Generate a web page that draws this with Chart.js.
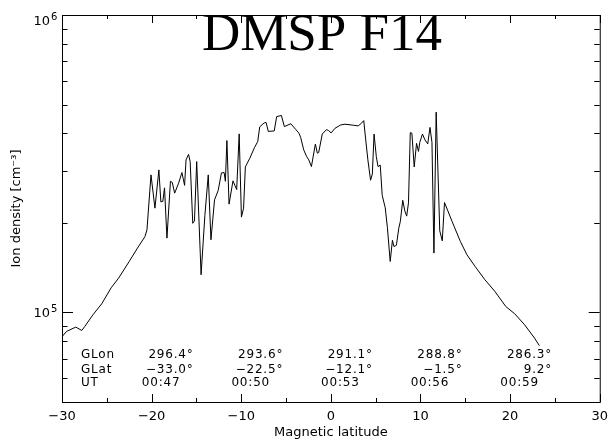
<!DOCTYPE html>
<html>
<head>
<meta charset="utf-8">
<script src="https://cdn.jsdelivr.net/npm/chart.js@4.4.1/dist/chart.umd.min.js"></script>
<style>
html,body{margin:0;padding:0;background:#fff}
#wrap{width:615px;height:443px}
</style>
</head>
<body>
<div id="wrap"><canvas id="c" width="615" height="443"></canvas></div>
<script>
/* DMSP F14 ion density pass */
const mlat=[-30.00,-29.48,-28.46,-27.79,-27.46,-26.55,-25.56,-24.52,-23.68,-22.50,
  -21.58,-20.74,-20.52,-20.07,-19.63,-19.19,-18.97,-18.75,-18.56,-18.29,
  -17.90,-17.70,-17.43,-16.99,-16.62,-16.32,-16.16,-15.88,-15.70,-15.41,
  -15.22,-14.97,-14.48,-14.06,-13.68,-13.38,-12.98,-12.57,-12.21,-11.91,
  -11.77,-11.60,-11.36,-10.92,-10.51,-10.23,-9.98,-9.74,-9.54,-9.04,
  -8.53,-8.16,-7.94,-7.45,-7.23,-6.98,-6.32,-6.05,-5.52,-5.19,
  -4.47,-3.92,-3.56,-3.37,-3.03,-2.70,-2.46,-2.17,-1.73,-1.51,
  -1.36,-0.96,-0.49,-0.25,0.03,0.47,1.10,1.58,2.50,3.05,
  3.42,3.67,3.89,4.13,4.43,4.63,4.82,5.07,5.26,5.51,
  5.73,6.07,6.31,6.62,6.87,7.04,7.31,7.58,7.75,8.02,
  8.25,8.46,8.66,8.86,9.04,9.30,9.56,9.78,9.92,10.22,
  10.50,10.81,11.06,11.28,11.50,11.75,12.15,12.43,12.68,13.53,
  14.45,15.19,16.10,17.20,18.31,19.52,20.51,21.62,22.72,23.27];
const density=[82900,86400,89300,87000,89700,98200,107000,121000,130500,148400,
  164600,180000,189600,290100,224200,301500,235400,236300,262400,177800,
  275900,273800,251800,272100,295300,267500,325800,340000,321600,199400,
  203200,321600,133900,211300,290100,175500,239100,257300,294600,295300,
  275900,378300,231300,277000,258900,398400,209200,224200,308600,330100,
  358000,375300,420500,433700,435400,406100,407600,455300,459600,421500,
  431000,412400,400500,387700,352000,334200,325800,309300,368100,343100,
  344800,397800,411800,408700,401400,416300,427000,429400,426100,423800,
  432700,441500,380300,325800,278300,292300,397800,334200,309300,312700,
  247600,224700,192600,148400,174800,166600,168200,192100,202200,238200,
  219600,210800,233600,402300,400500,308600,370200,347900,373000,397800,
  380300,368700,418900,373000,158300,471400,188100,174100,234200,202200,
  173200,156200,142700,128700,117600,104700,99000,90900,82000,77300];

const xTicks=[-30,-20,-10,0,10,20,30];
const xMinor=[-25,-15,-5,5,15,25];
const yMajor=[1e5,1e6];
const yMinor=[6e4,7e4,8e4,9e4,2e5,3e5,4e5,5e5,6e5,7e5,8e5,9e5];

// ephemeris block under the curve
const ephLat=[-19,-9,1,11,21];
const ephGLon=['296.4°','293.6°','291.1°','288.8°','286.3°'];
const ephGLat=['\u221233.0°','\u221222.5°','\u221212.1°','\u22121.5°','9.2°'];
const ephUT=['00:47','00:50','00:53','00:56','00:59'];

const minus=v=>v<0?'\u2212'+Math.abs(v):String(v);

const frame={
  id:'frame',
  afterDraw(ch){
    const {ctx,chartArea:a,scales:{x,y}}=ch;
    ctx.save();
    ctx.strokeStyle='#000';
    ctx.lineWidth=1;
    ctx.strokeRect(a.left+.5,a.top+.5,a.right-a.left,a.bottom-a.top);
    ctx.beginPath();
    const vt=(v,len)=>{const p=Math.round(x.getPixelForValue(v))+.5;
      ctx.moveTo(p,a.bottom);ctx.lineTo(p,a.bottom-len);
      ctx.moveTo(p,a.top);ctx.lineTo(p,a.top+len);};
    const ht=(v,len)=>{const p=Math.round(y.getPixelForValue(v))+.5;
      ctx.moveTo(a.left,p);ctx.lineTo(a.left+len,p);
      ctx.moveTo(a.right,p);ctx.lineTo(a.right-len,p);};
    xTicks.forEach(v=>vt(v,8));
    xMinor.forEach(v=>vt(v,4));
    yMajor.forEach(v=>ht(v,11));
    yMinor.forEach(v=>ht(v,5.5));
    ctx.stroke();

    // y labels 10^n
    ctx.fillStyle='#000';
    ctx.textBaseline='alphabetic';
    yMajor.forEach(v=>{
      const py=y.getPixelForValue(v);
      const by=Math.max(py+5,a.top+10);
      const ex=String(Math.round(Math.log10(v)));
      ctx.font='10px "DejaVu Sans"';
      const w2=ctx.measureText(ex).width;
      ctx.textAlign='left';
      ctx.fillText(ex,a.left-4.7-w2,by-5.5);
      ctx.font='13px "DejaVu Sans"';
      ctx.textAlign='right';
      ctx.fillText('10',a.left-5.7-w2,by);
    });

    // ephemeris rows
    ctx.font='12px "DejaVu Sans"';
    ctx.letterSpacing='0.8px';
    ctx.textBaseline='middle';
    const rows=[355,369.5,382.5];
    ctx.textAlign='left';
    ['GLon','GLat','UT'].forEach((t,i)=>ctx.fillText(t,81,rows[i]));
    ephLat.forEach((lat,i)=>{
      const px=x.getPixelForValue(lat);
      ctx.textAlign='right';
      ctx.fillText(ephGLon[i],px+33,rows[0]);
      ctx.fillText(ephGLat[i],px+33,rows[1]);
      ctx.textAlign='center';
      ctx.fillText(ephUT[i],px+0.5,rows[2]);
    });
    ctx.letterSpacing='0px';

    // title
    ctx.font='53px "Liberation Serif"';
    ctx.textAlign='center';
    ctx.textBaseline='alphabetic';
    ctx.fillText('DMSP F14',322,50);
    ctx.restore();
  }
};

new Chart(document.getElementById('c').getContext('2d'),{
  type:'line',
  data:{datasets:[{
    data:mlat.map((v,i)=>({x:v,y:density[i]})),
    borderColor:'#000',borderWidth:1,pointRadius:0,tension:0,fill:false
  }]},
  options:{
    responsive:false,animation:false,devicePixelRatio:1,
    layout:{padding:{top:15,right:9,left:0,bottom:0}},
    plugins:{legend:{display:false},tooltip:{enabled:false}},
    scales:{
      x:{type:'linear',min:-30,max:30,
        afterBuildTicks:s=>{s.ticks=xTicks.map(v=>({value:v}));},
        afterFit:s=>{s.height=41;},
        grid:{display:false,drawTicks:false},border:{display:false},
        ticks:{callback:minus,color:'#000',padding:7,maxRotation:0,autoSkip:false,
          font:{family:'DejaVu Sans',size:13}},
        title:{display:true,text:'Magnetic latitude',color:'#000',
          font:{family:'DejaVu Sans',size:13},padding:{top:0,bottom:3}}
      },
      y:{type:'logarithmic',min:5e4,max:1e6,
        afterFit:s=>{s.width=62;},
        grid:{display:false,drawTicks:false},border:{display:false},
        ticks:{display:false},
        title:{display:true,text:'Ion density [cm\u207B\u00B3]',color:'#000',
          font:{family:'DejaVu Sans',size:13},padding:{top:9,bottom:0}}
      }
    }
  },
  plugins:[frame]
});
</script>
</body>
</html>
